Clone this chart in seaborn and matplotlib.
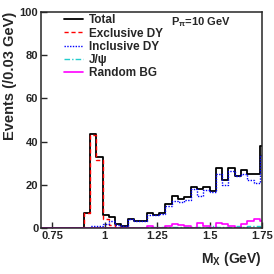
import numpy as np
import pandas as pd
import matplotlib
matplotlib.use("Agg")
import matplotlib.pyplot as plt
from matplotlib.lines import Line2D
import seaborn as sns

# histogram: 0.03 GeV bins, first edge at 0.69 GeV
bin_start = 0.69
bin_width = 0.03
n_bins = 36

total = [0, 0, 0, 0, 0, 0, 0, 7, 43.3, 33, 6, 5, 2, 1, 4, 3, 3, 7, 6, 7,
         11, 15, 13.5, 14.5, 19, 18, 19, 17, 28, 22, 28, 24, 27, 25, 25, 38]
exclusive_dy = [0, 0, 0, 0, 0, 0, 0, 7, 43, 31.5, 4, 1.5, 0.3, 0, 0, 0, 0, 0,
                0, 0, 0, 0, 0, 0, 0, 0, 0, 0, 0, 0, 0, 0, 0, 0, 0, 0]
inclusive_dy = [0, 0, 0, 0, 0, 0, 0, 0, 0.8, 1, 2, 3, 1.5, 1, 4, 3, 3, 6, 5.8, 6.5,
                10, 12.5, 12, 13, 18, 15, 17.5, 16.5, 25, 20, 26.5, 24, 25, 22, 21, 34]
jpsi = [0, 0, 0, 0, 0, 0, 0, 0, 0, 0, 0, 0, 0, 0, 0, 0, 0, 0.3, 0.5, 0.3,
        0.5, 0.6, 0.4, 0.5, 0.6, 0.5, 0.4, 0.7, 0.5, 0.6, 0.5, 0.7, 0.6, 0.8, 0.7, 0.6]
random_bg = [0, 0, 0, 0, 0, 0, 0, 0, 0, 0, 0, 0, 0, 0, 0, 0, 0, 1, 0, 0,
             1, 2, 1.5, 1, 0, 2.5, 1, 0, 2.5, 2, 1, 0, 2, 3, 4, 3]

series_labels = ["Total", "Exclusive DY", "Inclusive DY", "J/\u03c8", "Random BG"]

edges = list(bin_start + bin_width * np.arange(n_bins + 1))
centers = bin_start + bin_width * (np.arange(n_bins) + 0.5)

sns.set_style("ticks")
plt.rcParams['font.family'] = ['Liberation Sans', 'DejaVu Sans']
plt.rcParams['font.weight'] = 'bold'
plt.rcParams['mathtext.fontset'] = 'custom'
plt.rcParams['mathtext.rm'] = 'Liberation Sans:bold'
plt.rcParams['mathtext.bf'] = 'Liberation Sans:bold'
plt.rcParams['mathtext.it'] = 'Liberation Sans:bold'

fig, ax = plt.subplots(figsize=(2.74, 2.74), dpi=100)
fig.subplots_adjust(left=0.150, right=0.956, bottom=0.168, top=0.956)

styles = [
    ("black", "-", 1.3),
    ("#ff0000", (0, (3, 2)), 1.0),
    ("#0000ff", (0, (1, 1)), 1.0),
    ("#22cccc", (0, (4, 1.5, 1, 1.5)), 1.0),
    ("#ff00ff", "-", 1.2),
]
for vals, (col, ls, lw) in zip([total, exclusive_dy, inclusive_dy, jpsi, random_bg], styles):
    df = pd.DataFrame({"mx": centers, "w": vals})
    sns.histplot(data=df, x="mx", weights="w", bins=edges, element="step", fill=False,
                 color=col, linestyle=ls, linewidth=lw, ax=ax)

ax.set_xlim(0.697, 1.75)
ax.set_ylim(0, 100)
ax.set_xticks([0.75, 1, 1.25, 1.5, 1.75])
ax.set_xticklabels(["0.75", "1", "1.25", "1.5", "1.75"])
ax.set_yticks([0, 20, 40, 60, 80, 100])
ax.tick_params(direction="in", length=4.3, width=1, labelsize=8, pad=2)
for sp in ax.spines.values():
    sp.set_linewidth(1.1)
    sp.set_visible(True)

ax.set_ylabel("Events (/0.03 GeV)", loc="top", fontsize=10.5, fontweight="bold", labelpad=2)
ax.set_xlabel("M$_\\mathrm{X}$ (GeV)", loc="right", fontsize=10, fontweight="bold", labelpad=7)

handles = [Line2D([], [], color=c, linestyle=ls, linewidth=lw) for c, ls, lw in styles]
ax.legend(handles, series_labels, loc="upper left", bbox_to_anchor=(0.095, 1.0),
          frameon=False, fontsize=8.5, handlelength=1.6, handletextpad=0.5,
          labelspacing=0.1, borderpad=0.2, borderaxespad=0)

ax.text(0.59, 0.985, "P$_\\mathrm{\u03c0}$=10 GeV", transform=ax.transAxes,
        fontsize=8, fontweight="bold", ha="left", va="top")

fig.savefig("out.png", dpi=100)
